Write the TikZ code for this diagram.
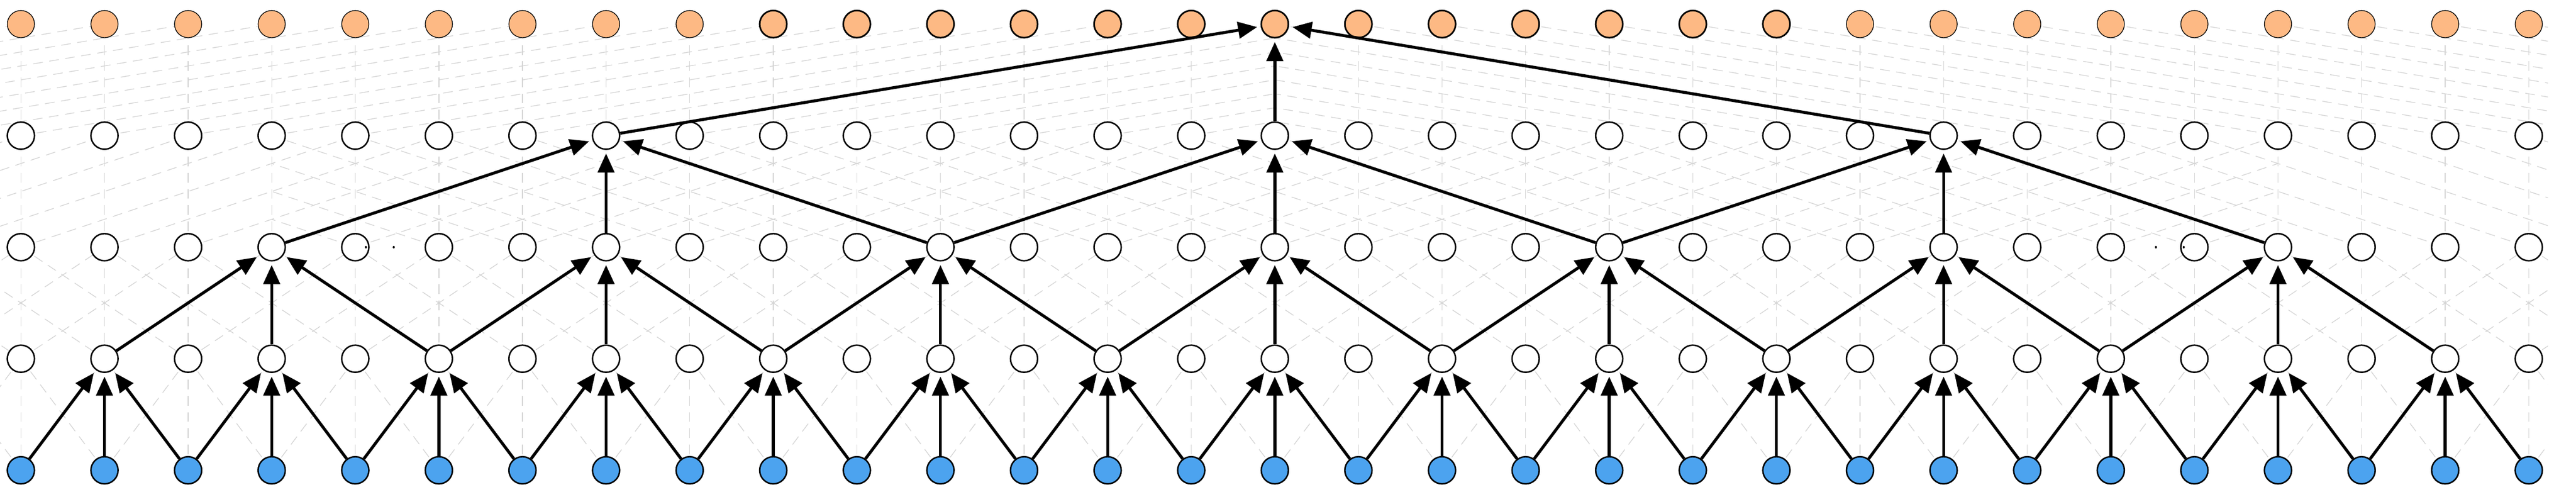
\documentclass[tikz,border=0pt]{standalone}
\usetikzlibrary{arrows.meta}
\definecolor{outcol}{RGB}{253,185,132}
\definecolor{incol}{RGB}{76,163,239}
\definecolor{gridcol}{RGB}{212,212,212}
\tikzset{
  unit/.style={circle, draw, fill=white, line width=0.5pt, minimum size=0.325cm, inner sep=0pt},
  inunit/.style={unit, fill=incol},
  outunit/.style={unit, fill=outcol},
  conn/.style={-{Triangle[length=6.5pt,width=5.6pt]}, line width=1pt, shorten >=1.2pt},
  bgline/.style={draw=gridcol, line width=0.25pt, dash pattern=on 3.3pt off 2.2pt}
}
\begin{document}
\begin{tikzpicture}[x=1cm, y=1.334cm]
\useasboundingbox (-0.25,-0.19) rectangle (30.565,4.216);
\foreach \r in {0,...,4}
  \foreach \i in {-8,...,38}
    \coordinate (g-\r-\i) at (\i,\r);
% all connections of the dilated layers
\begin{scope}
  \clip (-0.25,-0.19) rectangle (30.23,4.216);
  \foreach \r/\d/\cl in {0/1/-9, 1/2/-9, 2/4/3, 3/8/15} {
    \pgfmathtruncatemacro\rr{\r+1}
    \pgfmathtruncatemacro\cr{30-\cl}
    \foreach \i in {0,...,30}
      \draw[bgline] (g-\r-\i) -- (g-\rr-\i);
    \begin{scope}
      \clip (-1,\r) rectangle (\cr,\rr);
      \foreach \i in {-8,...,30} {
        \pgfmathtruncatemacro\j{\i+\d}
        \draw[bgline] (g-\r-\i) -- (g-\rr-\j);
      }
    \end{scope}
    \begin{scope}
      \clip (\cl,\r) rectangle (31,\rr);
      \foreach \i in {-8,...,30} {
        \pgfmathtruncatemacro\j{\i+\d}
        \draw[bgline] (g-\rr-\i) -- (g-\r-\j);
      }
    \end{scope}
  }
\end{scope}
% units
\foreach \i in {0,...,30} {
  \ifnum\i<9 \def\lw{0.25pt}\else\ifnum\i>21 \def\lw{0.25pt}\else\def\lw{0.55pt}\fi\fi
  \node[inunit] (n-0-\i) at (g-0-\i) {};
  \node[unit] (n-1-\i) at (g-1-\i) {};
  \node[unit] (n-2-\i) at (g-2-\i) {};
  \node[unit] (n-3-\i) at (g-3-\i) {};
  \node[outunit, line width=\lw] (n-4-\i) at (g-4-\i) {};
}
\fill (4.127,2) circle (0.012) (4.46,2) circle (0.012)
      (25.54,2) circle (0.012) (25.873,2) circle (0.012);
% strided path to the output
\foreach \i in {1,3,...,29}
  \foreach \k in {-1,0,1} {
    \pgfmathtruncatemacro\j{\i+\k}
    \draw[conn] (n-0-\j) -- (n-1-\i);
  }
\foreach \i in {3,7,...,27}
  \foreach \k in {-2,0,2} {
    \pgfmathtruncatemacro\j{\i+\k}
    \draw[conn] (n-1-\j) -- (n-2-\i);
  }
\foreach \i in {7,15,23}
  \foreach \k in {-4,0,4} {
    \pgfmathtruncatemacro\j{\i+\k}
    \draw[conn] (n-2-\j) -- (n-3-\i);
  }
\foreach \k in {-8,0,8} {
  \pgfmathtruncatemacro\j{15+\k}
  \draw[conn] (n-3-\j) -- (n-4-15);
}
\end{tikzpicture}
\end{document}
